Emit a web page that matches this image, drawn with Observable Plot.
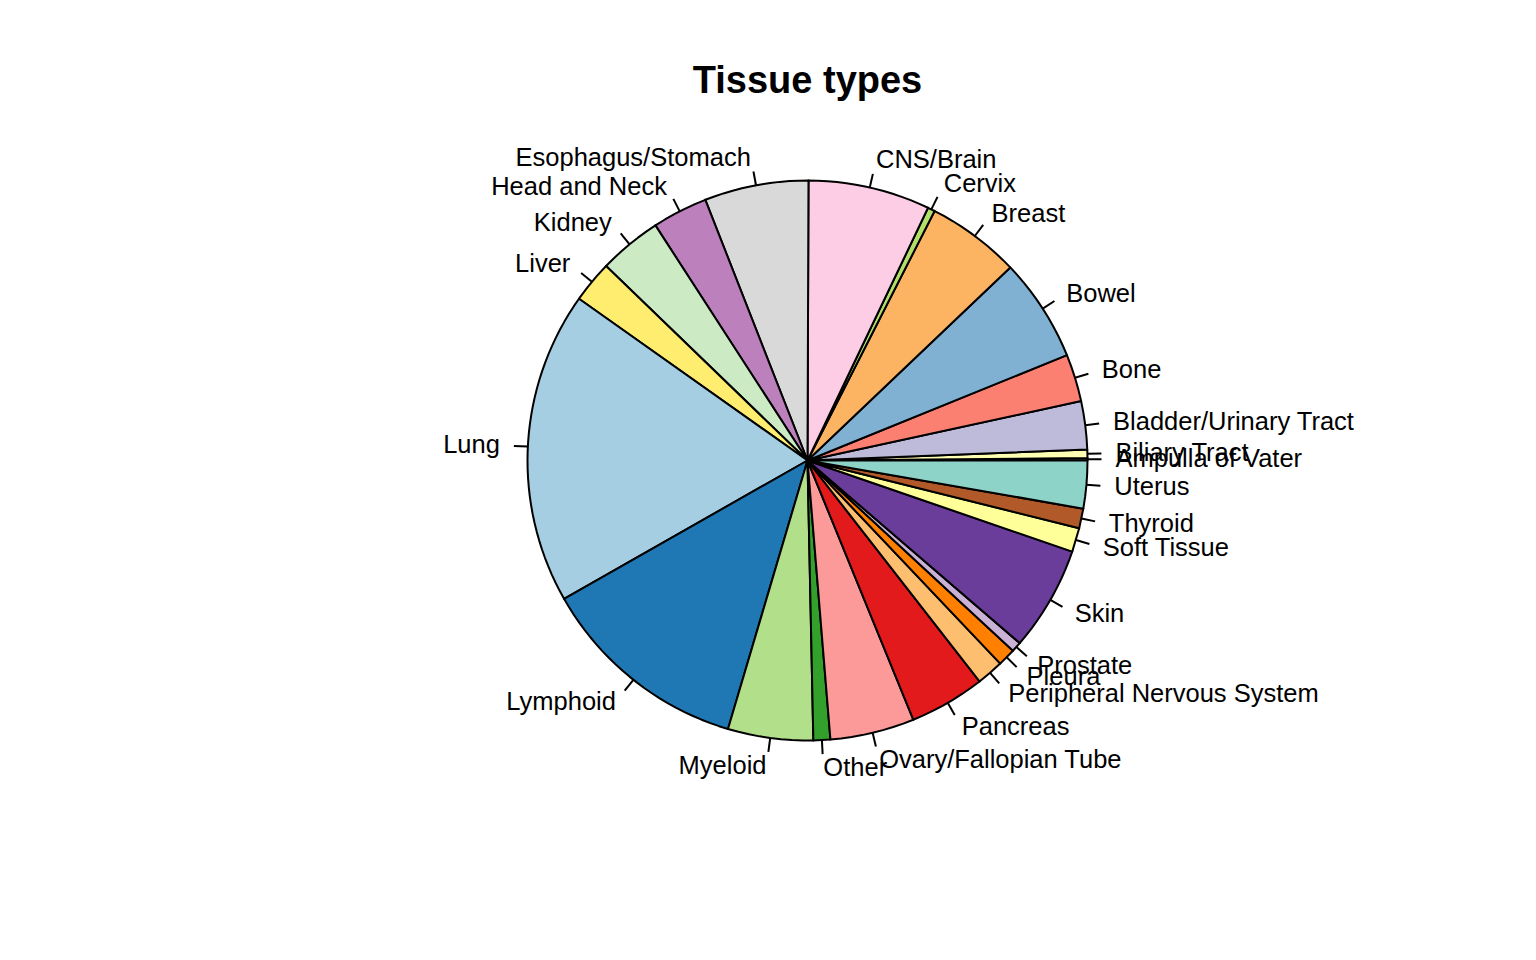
<!DOCTYPE html>
<html>
<head>
<meta charset="utf-8">
<script src="https://cdn.jsdelivr.net/npm/d3@7"></script>
<script src="https://cdn.jsdelivr.net/npm/@observablehq/plot@0.6"></script>
<style>
  html, body { margin: 0; padding: 0; background: white; }
</style>
</head>
<body>
<div id="chart"></div>
<script>
const title = "Tissue types";

const labels = [
  "Ampulla of Vater", "Biliary Tract", "Bladder/Urinary Tract", "Bone", "Bowel",
  "Breast", "Cervix", "CNS/Brain", "Esophagus/Stomach", "Head and Neck",
  "Kidney", "Liver", "Lung", "Lymphoid", "Myeloid", "Other",
  "Ovary/Fallopian Tube", "Pancreas", "Peripheral Nervous System", "Pleura",
  "Prostate", "Skin", "Soft Tissue", "Thyroid", "Uterus"
];

// slice sizes (degrees of the full circle)
const values = [
  0.5, 1.75, 10.0, 9.85, 21.5,
  19.4, 1.5, 25.3, 21.6, 11.5,
  13.1, 8.7, 64.9, 43.9, 17.7, 3.5,
  17.5, 15.7, 5.6, 3.7,
  2.1, 21.7, 5.0, 4.1, 9.9
];

const colors = [
  "#8DD3C7", "#FFFFB3", "#BEBADA", "#FB8072", "#80B1D3",
  "#FDB462", "#B3DE69", "#FCCDE5", "#D9D9D9", "#BC80BD",
  "#CCEBC5", "#FFED6F", "#A6CEE3", "#1F78B4", "#B2DF8A", "#33A02C",
  "#FB9A99", "#E31A1C", "#FDBF6F", "#FF7F00",
  "#CAB2D6", "#6A3D9A", "#FFFF99", "#B15928", "#8DD3C7"
];

// build slice polygons (R pie style: counter-clockwise from 3 o'clock)
const total = d3.sum(values);
const slicePts = [];
const ticks = [];
let cum = 0;
labels.forEach((label, i) => {
  const a0 = cum / total;
  cum += values[i];
  const a1 = cum / total;
  const n = Math.max(2, Math.floor(200 * (a1 - a0)));
  const pts = [];
  for (let k = 0; k < n; k++) {
    const t = 2 * Math.PI * (a0 + (a1 - a0) * k / (n - 1));
    pts.push({label, x: Math.cos(t), y: Math.sin(t)});
  }
  pts.push({label, x: 0, y: 0});
  pts.push({label, x: pts[0].x, y: pts[0].y});
  slicePts.push(...pts);
  const m = 2 * Math.PI * (a0 + a1) / 2;
  const c = Math.cos(m), s = Math.sin(m);
  ticks.push({label, x1: c, y1: s, x2: 1.05 * c, y2: 1.05 * s, lx: 1.1 * c, ly: 1.1 * s});
});

const R = 280, cx = 807, cy = 460, W = 1536, H = 960;

const chart = Plot.plot({
  width: W,
  height: H,
  margin: 0,
  x: {domain: [-cx / R, (W - cx) / R], axis: null},
  y: {domain: [-(H - cy) / R, cy / R], axis: null},
  color: {domain: labels, range: colors},
  style: {fontFamily: "'Liberation Sans', Arial, Helvetica, sans-serif", background: "white", color: "black"},
  marks: [
    Plot.line(slicePts, {x: "x", y: "y", z: "label", fill: "label", stroke: "black", strokeWidth: 2, strokeLinejoin: "round"}),
    Plot.link(ticks, {x1: "x1", y1: "y1", x2: "x2", y2: "y2", stroke: "black", strokeWidth: 2}),
    Plot.text(ticks.filter(d => d.lx < 0), {x: "lx", y: "ly", text: "label", textAnchor: "end", fontSize: 25.5, dy: 0, fill: "black"}),
    Plot.text(ticks.filter(d => d.lx >= 0), {x: "lx", y: "ly", text: "label", textAnchor: "start", fontSize: 25.5, dy: 0, fill: "black"}),
    Plot.text([title], {x: () => 0, frameAnchor: "top", text: d => d, fontSize: 38, fontWeight: "bold", dy: 66, fill: "black"})
  ]
});
document.getElementById("chart").appendChild(chart);
</script>
</body>
</html>
